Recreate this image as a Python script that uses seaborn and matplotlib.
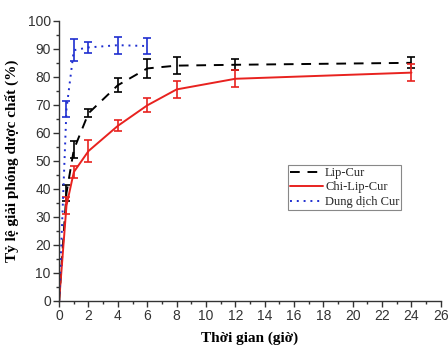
import matplotlib
matplotlib.use("Agg")
import matplotlib.pyplot as plt
import seaborn as sns
import pandas as pd
from matplotlib.ticker import MultipleLocator

sns.set_theme(style="ticks")
plt.rcParams['font.family'] = ['Liberation Sans', 'DejaVu Sans']

time_lip = [0, 0.5, 1, 2, 4, 6, 8, 12, 24]
lip_cur = [0, 38.5, 54, 67, 77, 83, 84, 84.3, 85]
lip_err = [0, 3, 3, 1.5, 2.5, 3.5, 3, 2, 2]

time_chi = [0, 0.5, 1, 2, 4, 6, 8, 12, 24]
chi_cur = [0, 34, 46, 53.5, 62.5, 69.8, 75.5, 79.3, 81.5]
chi_err = [0, 3, 2, 4, 2, 2.5, 3, 3, 3]

time_sol = [0, 0.5, 1, 2, 4, 6]
sol_cur = [0, 68.5, 89.5, 90.5, 91.3, 91]
sol_err = [0, 3, 4, 2, 3, 3]

series = [
    ("Lip-Cur", time_lip, lip_cur, lip_err, "black", (0, (5, 4))),
    ("Chi-Lip-Cur", time_chi, chi_cur, chi_err, "#e8221f", "-"),
    ("Dung dịch Cur", time_sol, sol_cur, sol_err, "#1f2fd0", (0, (1, 2.5))),
]

fig = plt.figure(figsize=(4.48, 3.47), dpi=100)
ax = fig.add_axes([0.132, 0.133, 0.852, 0.807])

for name, t, v, e, c, ls in series:
    df = pd.DataFrame({"t": t, "v": v})
    sns.lineplot(data=df, x="t", y="v", ax=ax, color=c, linestyle=ls,
                 linewidth=1.4, label=name)
    ax.errorbar(t[1:], v[1:], yerr=e[1:], fmt="none", ecolor=c,
                elinewidth=1.2, capsize=3, capthick=1.2)

ax.set_xlim(0, 26)
ax.set_ylim(0, 100)
ax.xaxis.set_major_locator(MultipleLocator(2))
ax.xaxis.set_minor_locator(MultipleLocator(1))
ax.yaxis.set_major_locator(MultipleLocator(10))
ax.yaxis.set_minor_locator(MultipleLocator(5))
ax.tick_params(which="major", direction="out", length=4, width=1, labelsize=10,
               colors="#333333", pad=2)
ax.tick_params(which="minor", direction="out", length=2, width=1, colors="#333333")
for s in ["left", "bottom"]:
    ax.spines[s].set_color("#333333")
    ax.spines[s].set_linewidth(1)
sns.despine(ax=ax)

ax.set_xlabel("Thời gian (giờ)", family=["Liberation Serif"], fontweight="bold",
              fontsize=11, color="black", labelpad=6)
ax.set_ylabel("Tỷ lệ giải phóng dược chất (%)", family=["Liberation Serif"],
              fontweight="bold", fontsize=11, color="black", labelpad=6)

leg = ax.legend(loc="upper left", bbox_to_anchor=(0.60, 0.485), frameon=True,
                fancybox=False, edgecolor="#888888", framealpha=1,
                prop={"family": "Liberation Serif", "size": 9},
                handlelength=2.6, handletextpad=0.2, borderpad=0.15,
                labelspacing=0.2, borderaxespad=0)
leg.get_frame().set_linewidth(0.8)

fig.savefig("out.png", dpi=100)
